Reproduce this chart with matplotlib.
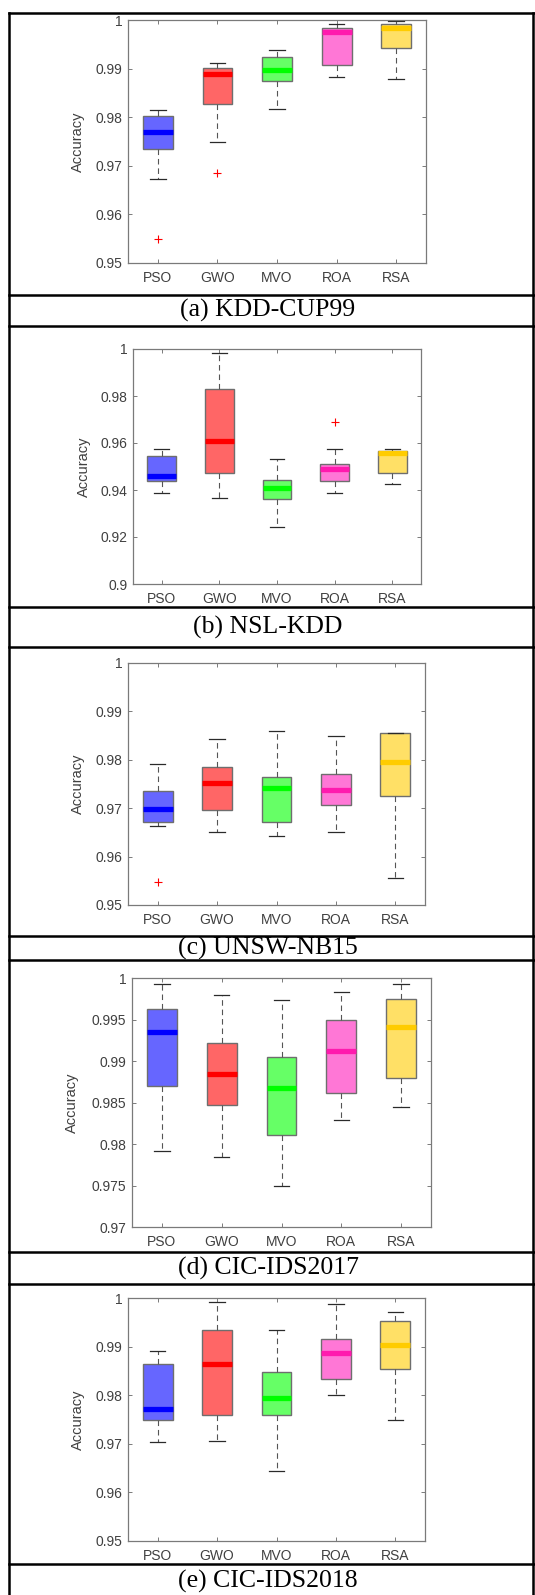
import numpy as np
import matplotlib
matplotlib.use('agg')
import matplotlib.pyplot as plt
from matplotlib.lines import Line2D

# algorithms and colours
algos = ["PSO", "GWO", "MVO", "ROA", "RSA"]
face_colors = ["#6666ff", "#ff6666", "#66ff66", "#ff77d6", "#ffe066"]
median_colors = ["#0000ff", "#ff0000", "#00ff00", "#ff1aae", "#ffcc00"]

# each row: [lower whisker, q1, median, q3, upper whisker]
kdd_cup99 = [[0.9673, 0.9734, 0.9769, 0.9802, 0.9815],
             [0.9750, 0.9828, 0.9889, 0.9902, 0.9911],
             [0.9816, 0.9875, 0.9898, 0.9924, 0.9938],
             [0.9883, 0.9908, 0.9975, 0.9984, 0.9992],
             [0.9879, 0.9942, 0.9984, 0.9992, 0.9998]]
kdd_cup99_out = [[0.9550], [0.9685], [], [], []]

nsl_kdd = [[0.9387, 0.9440, 0.9460, 0.9546, 0.9573],
           [0.9367, 0.9472, 0.9610, 0.9828, 0.9984],
           [0.9243, 0.9362, 0.9409, 0.9444, 0.9532],
           [0.9389, 0.9438, 0.9488, 0.9512, 0.9573],
           [0.9426, 0.9474, 0.9556, 0.9567, 0.9574]]
nsl_kdd_out = [[], [], [], [0.9688], []]

unsw_nb15 = [[0.9663, 0.9672, 0.9699, 0.9735, 0.9791],
             [0.9650, 0.9697, 0.9753, 0.9786, 0.9843],
             [0.9643, 0.9671, 0.9741, 0.9765, 0.9860],
             [0.9651, 0.9707, 0.9738, 0.9771, 0.9849],
             [0.9555, 0.9725, 0.9795, 0.9856, 0.9856]]
unsw_nb15_out = [[0.9548], [], [], [], []]

cic_ids2017 = [[0.9792, 0.9870, 0.9935, 0.9963, 0.9993],
               [0.9784, 0.9847, 0.9884, 0.9922, 0.9980],
               [0.9750, 0.9811, 0.9868, 0.9905, 0.9973],
               [0.9829, 0.9861, 0.9912, 0.9949, 0.9983],
               [0.9844, 0.9879, 0.9941, 0.9975, 0.9993]]
cic_ids2017_out = [[], [], [], [], []]

cic_ids2018 = [[0.9704, 0.9749, 0.9771, 0.9865, 0.9890],
               [0.9706, 0.9760, 0.9864, 0.9935, 0.9992],
               [0.9644, 0.9760, 0.9794, 0.9847, 0.9935],
               [0.9801, 0.9834, 0.9886, 0.9916, 0.9987],
               [0.9748, 0.9854, 0.9903, 0.9953, 0.9971]]
cic_ids2018_out = [[], [], [], [], []]

captions = ["(a) KDD-CUP99", "(b) NSL-KDD", "(c) UNSW-NB15",
            "(d) CIC-IDS2017", "(e) CIC-IDS2018"]

W, H = 535, 1595
fig = plt.figure(figsize=(W / 100, H / 100), dpi=100)


def rect(l, t, r, b):
    return [l / W, 1 - b / H, (r - l) / W, (b - t) / H]


# (data, outliers, axes box in px, ylim, ytick step, ylabel x in px)
panels = [
    (kdd_cup99, kdd_cup99_out, (128, 20, 426, 263), (0.95, 1.0), 0.01, 85),
    (nsl_kdd, nsl_kdd_out, (133, 349, 421, 584), (0.90, 1.0), 0.02, 91),
    (unsw_nb15, unsw_nb15_out, (128, 663, 425, 905), (0.95, 1.0), 0.01, 85),
    (cic_ids2017, cic_ids2017_out, (132, 978, 431, 1227), (0.97, 1.0), 0.005, 79),
    (cic_ids2018, cic_ids2018_out, (128, 1298, 425, 1541), (0.95, 1.0), 0.01, 85),
]

axis_gray = "#7a7a7a"
text_gray = "#404040"

for data, outs, box, ylim, step, ylab_x in panels:
    ax = fig.add_axes(rect(*box))
    stats = []
    for i, row in enumerate(data):
        stats.append(dict(whislo=row[0], q1=row[1], med=row[2], q3=row[3],
                          whishi=row[4], fliers=outs[i], label=algos[i]))
    bp = ax.bxp(stats, positions=np.arange(1, 6), widths=0.5, capwidths=0.26,
                patch_artist=True, showfliers=True,
                boxprops=dict(edgecolor="#6e6e6e", linewidth=1.0),
                whiskerprops=dict(color="#555555", linewidth=0.8, linestyle=(0, (5, 3.5))),
                capprops=dict(color="#2a2a2a", linewidth=0.9),
                medianprops=dict(linewidth=3.8, solid_capstyle="butt"),
                flierprops=dict(marker="+", markeredgecolor="red", markersize=6,
                                markeredgewidth=0.8, linestyle="none"))
    for i in range(5):
        bp["boxes"][i].set_facecolor(face_colors[i])
        bp["medians"][i].set_color(median_colors[i])
    ax.set_xlim(0.5, 5.5)
    ax.set_ylim(*ylim)
    ticks = np.arange(ylim[0], ylim[1] + step / 2, step)
    ax.set_yticks(ticks)
    ax.set_yticklabels(["%g" % round(t, 4) for t in ticks])
    ax.set_xticks(np.arange(1, 6))
    ax.set_xticklabels(algos)
    for s in ax.spines.values():
        s.set_color(axis_gray)
        s.set_linewidth(0.9)
    ax.tick_params(direction="in", length=3, width=0.7, color=axis_gray,
                   top=True, right=True, labelsize=10, labelcolor=text_gray)
    ax.tick_params(axis="x", pad=6)
    ax.tick_params(axis="y", pad=4)
    for lab in ax.get_xticklabels() + ax.get_yticklabels():
        lab.set_family("Liberation Sans")
    ax.set_ylabel("Accuracy", fontsize=10.5, color=text_gray, family="Liberation Sans")
    ax.yaxis.set_label_coords((ylab_x - box[0]) / (box[2] - box[0]), 0.5)

# table lines
h_lines = [13, 295, 326, 607, 647, 936, 960, 1252, 1284, 1564]
for y in h_lines:
    fig.add_artist(Line2D([9 / W, 534 / W], [1 - y / H, 1 - y / H],
                          color="black", linewidth=1.8))
for x in [9, 533]:
    fig.add_artist(Line2D([x / W, x / W], [1 - 13 / H, 0], color="black",
                          linewidth=1.8))

cap_rows = [(295, 326), (607, 647), (936, 960), (1252, 1284), (1564, 1596)]
for (t, b), cap in zip(cap_rows, captions):
    yc = (t + b) / 2
    if b > H:
        yc = t + 17
    fig.text(268 / W, 1 - yc / H, cap, ha="center", va="center",
             fontsize=18.5, family="Liberation Serif", color="black")

fig.savefig("out.png", dpi=100)
